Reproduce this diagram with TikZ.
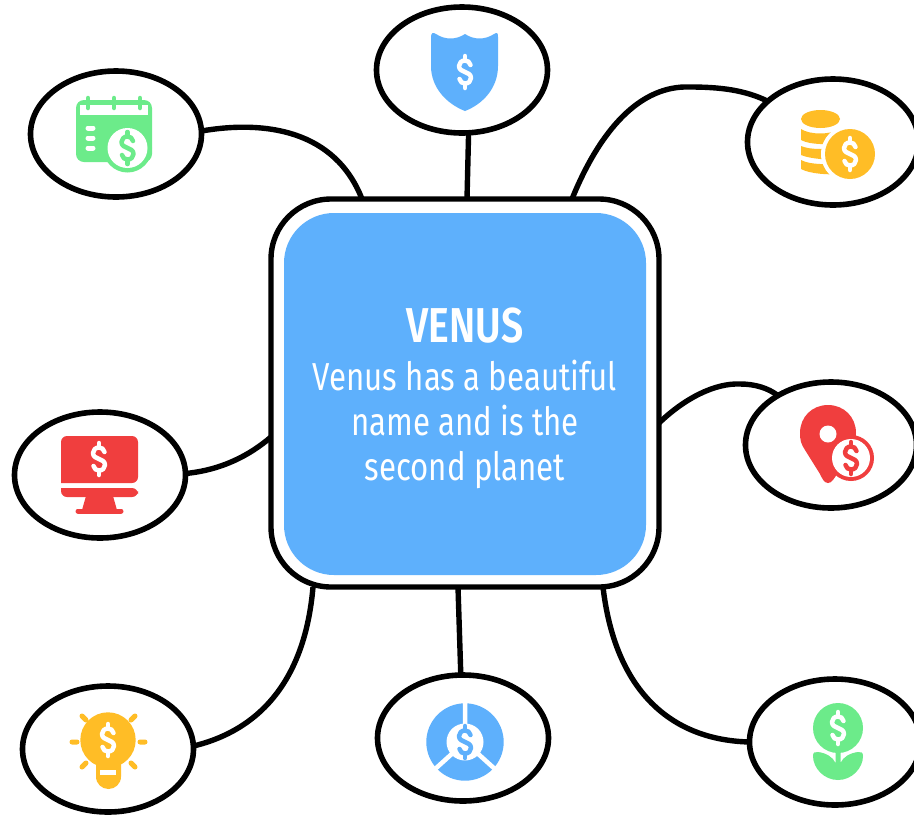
\documentclass[tikz,border=0pt]{standalone}
\usepackage{fontspec}
\usetikzlibrary{shapes.geometric}
\setmainfont{Fira Sans}[FakeStretch=0.8]
\newfontfamily\titlefont{Fira Sans SemiBold}[FakeStretch=0.8]
\definecolor{vblue}{HTML}{5EB0FC}
\definecolor{vgreen}{HTML}{6CEB8A}
\definecolor{vyellow}{HTML}{FFBD26}
\definecolor{vred}{HTML}{F03E3E}
\newcommand{\dollarsign}[3]{%
  \begin{scope}[shift={(#1,#2)},draw=#3,line width=4.5pt,line cap=round,line join=round,fill=none]
    \draw (5.5,-7) .. controls (5,-10) and (2.5,-11.5) .. (0,-11.5)
       .. controls (-3.5,-11.5) and (-6,-9) .. (-6,-6)
       .. controls (-6,-2.5) and (-3,-1) .. (0,0)
       .. controls (3,1) and (6,2.5) .. (6,6)
       .. controls (6,9) and (3.5,11.5) .. (0,11.5)
       .. controls (-2.5,11.5) and (-5,10) .. (-5.5,7);
    \draw (0,-11.5) -- (0,-16) (0,11.5) -- (0,16);
  \end{scope}}
\tikzset{
  bubble/.style={ellipse,draw=black,fill=white,line width=5.6pt,minimum width=171pt,minimum height=126pt,inner sep=0pt,outer sep=0pt},
  hubframe/.style={rectangle,draw=black,fill=white,line width=5.4pt,rounded corners=60pt,minimum width=388pt,minimum height=388pt,inner sep=0pt,outer sep=0pt},
  hubfill/.style={rectangle,fill=vblue,rounded corners=50pt,minimum width=362pt,minimum height=362pt,inner sep=0pt,outer sep=0pt},
  link/.style={draw=black,line width=5.4pt},
  heading/.style={text=white,font=\titlefont\fontsize{49}{49}\selectfont,inner sep=0pt},
  bodytext/.style={text=white,align=center,font=\fontsize{39}{45}\selectfont,inner sep=0pt},
  ray/.style={line width=5pt,line cap=round},
}
\begin{document}
\begin{tikzpicture}[x=1pt,y=-1pt]
\useasboundingbox (0,0) rectangle (914,815);
\node[hubframe] (hub) at (465,393) {};
\node[hubfill] (panel) at (465,394) {};
\node[bubble] (cal) at (116,134) {};
\node[bubble] (shield) at (462,70) {};
\node[bubble] (coins) at (833,142) {};
\node[bubble] (pin) at (831,445) {};
\node[bubble] (screen) at (100,475) {};
\node[bubble] (bulb) at (108,749) {};
\node[bubble] (pie) at (463,738) {};
\node[bubble] (plant) at (835,742) {};
\node[heading] (title) at (465,326) {VENUS};
\node[bodytext] (body) at (465,424) {Venus has a beautiful\\name and is the\\second planet};
% connectors
\draw[link] (cal.2) .. controls (265,120) and (335,130) .. ([xshift=-103pt]hub.north);
\draw[link] (shield.-84) -- ([xshift=2pt]hub.north);
\draw[link] ([xshift=107pt]hub.north) .. controls (600,130) and (640,85) .. (690,87) .. controls (720,87) and (745,90) .. (coins.148);
\draw[link] ([yshift=-30pt]hub.east) .. controls (685,398) and (715,383) .. (740,384) .. controls (755,384) and (768,388) .. (pin.137);
\draw[link] (screen.1) .. controls (222,470) and (250,455) .. ([yshift=-44pt]hub.west);
\draw[link] (bulb.2) .. controls (260,730) and (305,680) .. ([xshift=-152pt]hub.south);
\draw[link] (pie.92) -- ([xshift=-7pt]hub.south);
\draw[link] (plant.180) .. controls (670,740) and (615,690) .. ([xshift=138pt]hub.south);
% calendar icon
\fill[vgreen,rounded corners=8pt] (76,100) rectangle (152,162);
\fill[white] (80,105) rectangle (148,115);
\draw[vgreen,line width=4.5pt,line cap=round] (88,98) -- (88,108) (114,98) -- (114,108) (140,98) -- (140,108);
\draw[white,line width=5pt,line cap=round] (88,128) -- (93,128) (88,138) -- (93,138) (88,148) -- (93,148);
\fill[vgreen] (127.5,148) circle (24.5);
\fill[white] (127.5,148) circle (20);
\dollarsign{127.5}{148}{vgreen}
% shield icon
\fill[vblue] (431,37) .. controls (431,33) and (433,32) .. (436,34)
  .. controls (445,40) and (456,40) .. (465,34)
  .. controls (474,40) and (485,40) .. (494,34)
  .. controls (497,32) and (498,33) .. (498,37)
  -- (498,66) .. controls (498,88) and (483,104) .. (465,111)
  .. controls (447,104) and (431,88) .. (431,66) -- cycle;
\dollarsign{465}{72}{white}
% coins icon
\fill[vyellow] (820.5,119) ellipse (19.5 and 9);
\fill[vyellow] (801,129) .. controls (810,135) and (830,135) .. (840,129) -- (840,142) .. controls (830,145) and (810,145) .. (801,140) -- cycle;
\fill[vyellow] (801,146) .. controls (810,150) and (830,150) .. (840,146) -- (840,160) .. controls (830,160) and (810,159) .. (801,155) -- cycle;
\fill[vyellow] (801,160) .. controls (810,165) and (830,165) .. (840,162) -- (840,174) .. controls (830,175) and (810,174) .. (801,169) -- cycle;
\fill[white] (850,154) circle (29);
\fill[vyellow] (850,154) circle (25);
\dollarsign{850}{154}{white}
% pin icon
\fill[vred] (828,483) .. controls (824,483) and (822,478) .. (820,474) -- (805,450)
  .. controls (801,444) and (800,440) .. (800,433)
  .. controls (800,417) and (812,405) .. (828,405)
  .. controls (844,405) and (856,417) .. (856,433)
  .. controls (856,445) and (848,460) .. (840,470) -- (833,480) .. controls (831,482) and (830,483) .. (828,483) -- cycle;
\fill[white] (828,434) circle (8.5);
\fill[vred] (851,458) circle (23);
\fill[white] (851,458) circle (19);
\dollarsign{851}{458}{vred}
% monitor icon
\fill[vred,rounded corners=6pt] (61,483) -- (61,436) -- (138,436) -- (138,483) [sharp corners] -- cycle;
\fill[vred,rounded corners=6pt] (61,488) -- (61,497) -- (138,497) -- (138,488) [sharp corners] -- cycle;
\fill[vred] (86,496) -- (113,496) -- (117,510) -- (82,510) -- cycle;
\draw[vred,line width=5pt,line cap=round] (78,511) -- (121,511);
\dollarsign{99}{459}{white}
% bulb icon
\fill[vyellow] (108,740) circle (27.7);
\fill[vyellow] (96,755) -- (121,755) -- (121,776.5) .. controls (121,784) and (115,789) .. (108.5,789) .. controls (102,789) and (96,784) .. (96,776.5) -- cycle;
\draw[white,line width=5pt] (100,772) -- (116,772);
\draw[vyellow,ray] (72,742) -- (77,742) (140,742) -- (145,742) (82,716) -- (86,720) (131,720) -- (135,716) (82,767) -- (86,763) (131,763) -- (135,767);
\dollarsign{108}{740}{white}
% pie icon
\fill[vblue] (465,742) circle (38.7);
\fill[white] (465,742) circle (18.5);
\draw[white,line width=4.5pt] (465,742) -- (465,700) (465,742) -- (434,770) (465,742) -- (496,770);
\dollarsign{465}{742}{vblue}
% plant icon
\fill[vgreen] (838,728) circle (25);
\fill[vgreen] (813,756) .. controls (813,752) and (815,752) .. (818,752)
  .. controls (826,753) and (833,757) .. (835.5,763) -- (835.5,750) -- (840.5,750) -- (840.5,763)
  .. controls (843,757) and (850,753) .. (858,752)
  .. controls (861,752) and (863,752) .. (863,756)
  .. controls (863,768) and (852,780) .. (838,780)
  .. controls (824,780) and (813,768) .. (813,756) -- cycle;
\dollarsign{838}{728}{white}
\end{tikzpicture}
\end{document}
